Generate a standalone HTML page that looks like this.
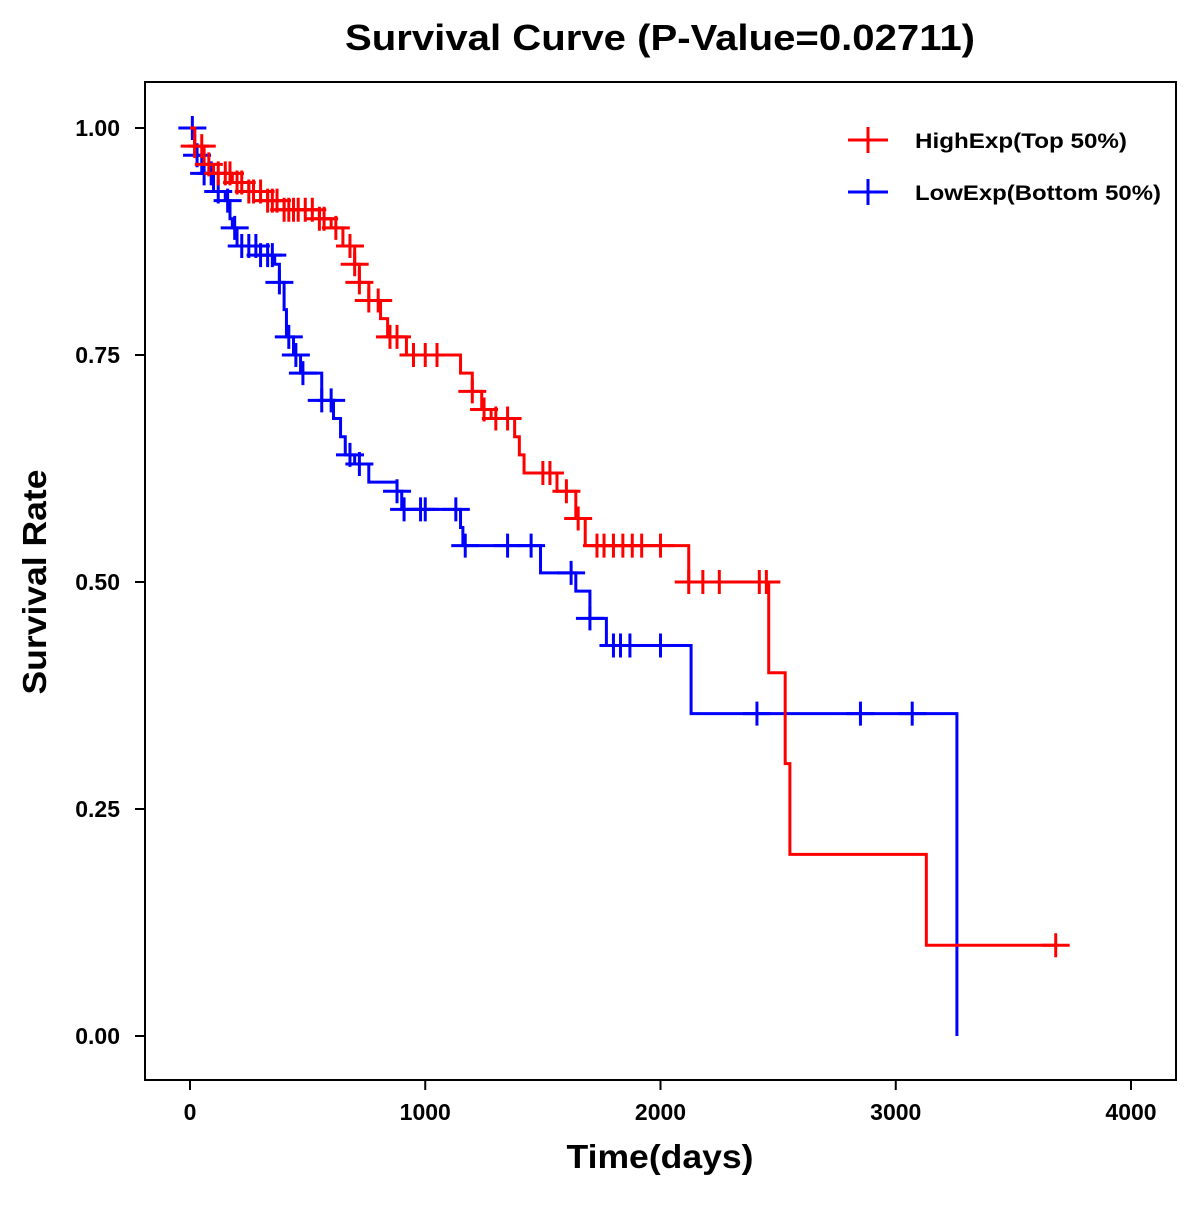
<!DOCTYPE html>
<html><head><meta charset="utf-8"><style>
body{margin:0;background:#fff}
svg text{font-family:"Liberation Sans",sans-serif;font-weight:bold}
</style></head><body>
<svg width="1200" height="1200" viewBox="0 0 1200 1200">
<text x="660" y="50" text-anchor="middle" font-size="36" textLength="630" lengthAdjust="spacingAndGlyphs">Survival Curve (P-Value=0.02711)</text>
<rect x="145" y="82" width="1031" height="998" fill="none" stroke="#000" stroke-width="2"/>
<g id="axes"></g>
<g id="series"></g>
<text x="660" y="1168" text-anchor="middle" font-size="33" textLength="187" lengthAdjust="spacingAndGlyphs">Time(days)</text>
<text transform="translate(46,582) rotate(-90)" text-anchor="middle" font-size="33" textLength="225" lengthAdjust="spacingAndGlyphs">Survival Rate</text>
<g>
<g><line x1="848" y1="140" x2="888" y2="140" stroke="red" stroke-width="3"/><line x1="868" y1="127" x2="868" y2="153" stroke="red" stroke-width="3"/><text x="915" y="148" font-size="21" textLength="212" lengthAdjust="spacingAndGlyphs">HighExp(Top 50%)</text></g>
<g><line x1="848" y1="192" x2="888" y2="192" stroke="blue" stroke-width="3"/><line x1="868" y1="179" x2="868" y2="205" stroke="blue" stroke-width="3"/><text x="915" y="200" font-size="21" textLength="246" lengthAdjust="spacingAndGlyphs">LowExp(Bottom 50%)</text></g>
</g>
</svg>
<script>
const xTicks=[0,1000,2000,3000,4000];
const yTicks=[0,0.25,0.5,0.75,1.0];
const highTimes=[0,20,60,100,180,250,330,400,550,600,650,700,720,760,810,840,920,1150,1200,1240,1280,1380,1400,1420,1560,1640,1680,2120,2460,2530,2550,3130,3680];
const highSurv=[1,0.98,0.96,0.95,0.94,0.93,0.92,0.91,0.90,0.89,0.87,0.85,0.83,0.81,0.79,0.77,0.75,0.73,0.71,0.69,0.68,0.66,0.64,0.62,0.60,0.57,0.54,0.50,0.40,0.30,0.20,0.10,0.10];
const highCensor=[20,50,80,120,150,170,200,220,250,270,300,330,350,370,400,420,440,460,490,520,550,570,620,680,700,720,760,800,850,880,950,1000,1050,1200,1250,1300,1350,1500,1530,1600,1650,1730,1760,1800,1840,1880,1920,2000,2120,2180,2250,2420,2450,3680];
const lowTimes=[0,20,50,100,150,170,180,200,300,360,380,400,410,440,470,560,610,640,660,700,760,880,900,1150,1160,1490,1640,1700,1770,2130,3260];
const lowSurv=[1,0.97,0.95,0.93,0.92,0.90,0.89,0.87,0.86,0.85,0.83,0.80,0.77,0.75,0.73,0.70,0.68,0.66,0.64,0.63,0.61,0.60,0.58,0.56,0.54,0.51,0.49,0.46,0.43,0.355,0];
const lowCensor=[10,30,60,90,120,160,190,220,250,280,300,330,350,380,420,450,480,560,600,680,720,880,910,980,1000,1130,1170,1350,1450,1620,1700,1800,1830,1870,2000,2410,2850,3070];
const X=t=>190+t*0.23525, Y=s=>1036-s*908;
const NS="http://www.w3.org/2000/svg";
function mk(tag,attrs,parent){const e=document.createElementNS(NS,tag);for(const k in attrs)e.setAttribute(k,attrs[k]);parent.appendChild(e);return e;}
const ax=document.getElementById('axes');
xTicks.forEach(v=>{
 const l=mk('line',{x1:X(v),x2:X(v),y1:1080,y2:1090,stroke:'#000','stroke-width':2},ax);
 
 
 const t=mk('text',{x:X(v),y:1120,'text-anchor':'middle','font-size':23},ax);t.textContent=v;
 
 
});
yTicks.forEach(v=>{
 const l=mk('line',{x1:135,x2:145,y1:Y(v),y2:Y(v),stroke:'#000','stroke-width':2},ax);
 
 
 const t=mk('text',{x:120,y:Y(v)+8,'text-anchor':'end','font-size':23},ax);t.textContent=v.toFixed(2);
 
 
});
const sg=document.getElementById('series');
function survAt(times,surv,t){let s=surv[0];for(let i=0;i<times.length;i++){if(times[i]<=t)s=surv[i];}return s;}
function draw(times,surv,cens,color,name){
 let d=`M${X(times[0])},${Y(surv[0])}`;
 for(let i=1;i<times.length;i++){d+=`H${X(times[i])}V${Y(surv[i])}`;}
 const p=mk('path',{d:d,fill:'none',stroke:color,'stroke-width':3},sg);
 
 
 cens.forEach(t=>{
  const s=survAt(times,surv,t),x=X(t),y=Y(s);
  const c=mk('path',{d:`M${x-14},${y}H${x+14}M${x},${y-12}V${y+12}`,stroke:color,'stroke-width':3,fill:'none'},sg);
  
  
 });
}
draw(lowTimes,lowSurv,lowCensor,'blue','low-exp');
draw(highTimes,highSurv,highCensor,'red','high-exp');
</script>
</body></html>
